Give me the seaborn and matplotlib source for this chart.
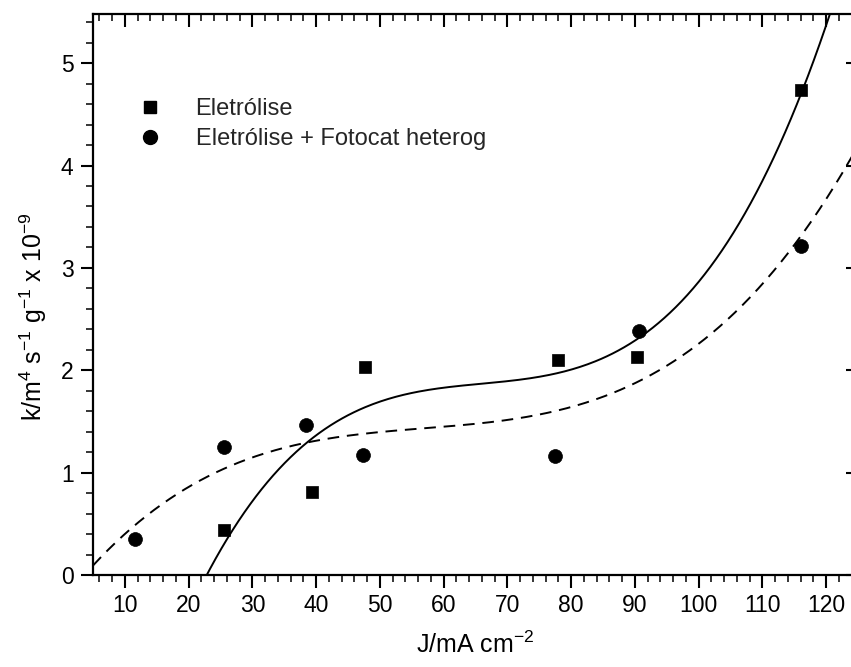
import numpy as np
import pandas as pd
import matplotlib
matplotlib.use("Agg")
import matplotlib.pyplot as plt
import seaborn as sns
from matplotlib.ticker import MultipleLocator
from matplotlib.lines import Line2D

# ---- data ----
label_a = "Eletrólise"
label_b = "Eletrólise + Fotocat heterog"
x_a = [25.5, 39.4, 47.6, 78.0, 90.3, 116.1]
y_a = [0.44, 0.81, 2.03, 2.10, 2.13, 4.74]
x_b = [11.6, 25.5, 38.4, 47.4, 77.4, 90.6, 116.0]
y_b = [0.35, 1.25, 1.47, 1.17, 1.165, 2.38, 3.21]
x_ticks = [10, 20, 30, 40, 50, 60, 70, 80, 90, 100, 110, 120]
y_ticks = [0, 1, 2, 3, 4, 5]

sns.set_theme(style="ticks")
plt.rcParams['font.family'] = ['Liberation Sans', 'DejaVu Sans']
plt.rcParams['mathtext.fontset'] = 'custom'
plt.rcParams['mathtext.rm'] = 'Liberation Sans'
plt.rcParams['mathtext.it'] = 'Liberation Sans:italic'
plt.rcParams['mathtext.bf'] = 'Liberation Sans:bold'

fig = plt.figure(figsize=(8.51, 6.67), dpi=100)
ax = fig.add_axes([93/851, (667-575)/667, (858-93)/851, (575-14)/667])

# cubic polynomial fits (as in the original Origin plot)
xx = np.linspace(5, 125, 400)
fit_a = np.polyval(np.polyfit(x_a, y_a, 3), xx)
fit_b = np.polyval(np.polyfit(x_b, y_b, 3), xx)
sns.lineplot(x=xx, y=fit_a, ax=ax, color='black', lw=1.4, sort=False)
sns.lineplot(x=xx, y=fit_b, ax=ax, color='black', lw=1.4, sort=False,
             linestyle=(0, (6, 4)))

df_a = pd.DataFrame({'x': x_a, 'y': y_a})
df_b = pd.DataFrame({'x': x_b, 'y': y_b})
sns.scatterplot(data=df_a, x='x', y='y', ax=ax, marker='s', s=80,
                color='black', edgecolor='black', linewidth=0.5, zorder=5)
sns.scatterplot(data=df_b, x='x', y='y', ax=ax, marker='o', s=100,
                color='black', edgecolor='black', linewidth=0.5, zorder=5)

ax.set_xlim(5, 125)
ax.set_ylim(0, 5.48)
ax.set_xticks(x_ticks)
ax.set_yticks(y_ticks)
ax.xaxis.set_minor_locator(MultipleLocator(2))
ax.yaxis.set_minor_locator(MultipleLocator(0.2))

for s in ax.spines.values():
    s.set_linewidth(1.6)
    s.set_color('black')
ax.spines['right'].set_visible(False)

ax.tick_params(axis='both', which='major', labelsize=16.5, colors='black',
               width=1.5, length=9)
ax.tick_params(axis='both', which='minor', width=1.3, length=5)
ax.tick_params(axis='x', which='both', bottom=True, top=True, direction='out')
ax.tick_params(axis='y', which='both', left=True, right=True, direction='out')
ax.tick_params(axis='x', which='major', pad=5)
ax.tick_params(axis='y', which='major', pad=5)

# top/right ticks point inward
for t in ax.xaxis.get_major_ticks() + ax.xaxis.get_minor_ticks():
    t.tick2line.set_marker(3)  # TICKDOWN
for t in ax.yaxis.get_major_ticks() + ax.yaxis.get_minor_ticks():
    t.tick2line.set_marker(0)  # TICKLEFT

ax.set_xlabel(r"J/mA cm$^{-2}$", fontsize=18, color='black', labelpad=10)
ax.set_ylabel(r"k/m$^{4}$ s$^{-1}$ g$^{-1}$ x 10$^{-9}$", fontsize=18,
              color='black')
ax.yaxis.set_label_coords(-0.057, 0.46)

handles = [
    Line2D([], [], marker='s', color='black', linestyle='none', markersize=8),
    Line2D([], [], marker='o', color='black', linestyle='none', markersize=10),
]
ax.legend(handles, [label_a, label_b], loc='upper left',
          bbox_to_anchor=(0.043, 0.850), frameon=False, fontsize=17,
          handlelength=2.0, handletextpad=0.95, labelspacing=0.35,
          borderaxespad=0, borderpad=0)

fig.savefig("out.png", dpi=100)
